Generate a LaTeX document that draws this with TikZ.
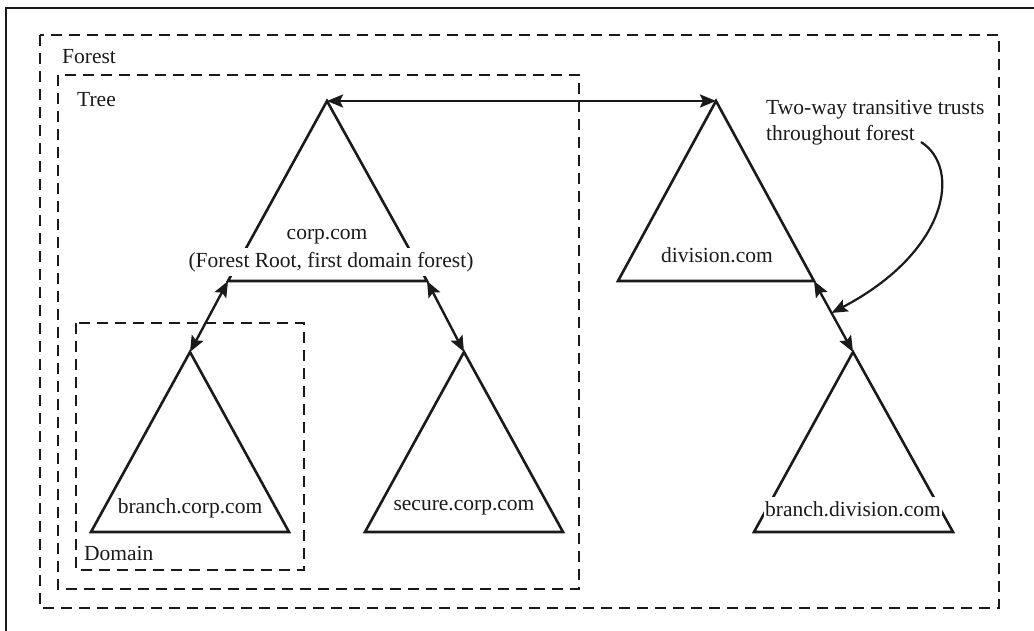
\documentclass[tikz,border=0pt]{standalone}
\usepackage{fontspec}
\setmainfont{Liberation Serif}
\usetikzlibrary{arrows.meta,calc}
\definecolor{ink}{HTML}{1A1A1A}
\begin{document}
\begin{tikzpicture}[x=1pt,y=-1pt,
  frame/.style={draw=ink,line width=2.4pt},
  zone/.style={draw=ink,line width=2.4pt,dash pattern=on 11pt off 7pt},
  tri/.style={draw=ink,line width=2.6pt,line join=miter},
  tip/.tip={Stealth[length=16pt,width=13pt,inset=3pt]},
  trust/.style={draw=ink,line width=2.4pt,tip-tip},
  note/.style={draw=ink,line width=2.2pt,-tip},
  lbl/.style={font=\fontsize{21.5}{25.5}\selectfont,inner sep=0pt,text=ink},
  cut/.style={lbl,fill=white,inner xsep=1.5pt}
]
\useasboundingbox (0,0) rectangle (1034,631);

% outer frame (runs off the page to the right and bottom)
\draw[frame] (1040,8) -- (6,8) -- (6,640);

% nested scopes: forest, tree, domain
\draw[zone] (40,35) rectangle (999,608);
\draw[zone] (58,75) rectangle (579,589);
\draw[zone] (76,323) rectangle (304,570);

% domain triangles
\coordinate (corpT) at (327,101); \coordinate (corpL) at (228,281); \coordinate (corpR) at (427,281);
\coordinate (divT)  at (716,101); \coordinate (divL)  at (618,281); \coordinate (divR)  at (814,281);
\coordinate (brcT)  at (190,352); \coordinate (brcL)  at (91,532);  \coordinate (brcR)  at (289,532);
\coordinate (secT)  at (464,352); \coordinate (secL)  at (365,532); \coordinate (secR)  at (563,532);
\coordinate (bdvT)  at (853,352); \coordinate (bdvL)  at (754,532); \coordinate (bdvR)  at (953,532);

\foreach \d in {corp,div,brc,sec,bdv}
  \draw[tri] (\d T) -- (\d L) -- (\d R) -- cycle;

% scope labels
\node[lbl,anchor=west] (forestlbl) at (62,57) {Forest};
\node[lbl,anchor=west] (treelbl) at (77,100) {Tree};
\node[lbl,anchor=west] (domainlbl) at (84,553) {Domain};

% domain names
\node[lbl] (corpname) at (327,237) {corp.com};
\node[cut,minimum height=28pt] (corpnote) at (331,262) {(Forest Root, first domain forest)};
\node[lbl] (divname) at (717,255) {division.com};
\node[lbl] (brcname) at (190,508) {branch.corp.com};
\node[lbl] (secname) at (464,508) {secure.corp.com};
\node[cut,minimum height=25pt] (bdvname) at (853,509.5) {branch.division.com};

% trusts
\draw[trust] (corpT) -- (divT);
\draw[trust] (corpL) -- (brcT);
\draw[trust] (corpR) -- (secT);
\draw[trust] (divR) -- (bdvT);

% callout
\node[lbl,align=left,anchor=west] (trustnote) at (766,122.5) {Two-way transitive trusts\\throughout forest};
\coordinate (calloutStart) at (921,142);
\coordinate (calloutEnd) at ($(divR)!0.45!(bdvT)$);
\draw[note] (calloutStart) .. controls (962,168) and (948,252) .. (calloutEnd);
\end{tikzpicture}
\end{document}
